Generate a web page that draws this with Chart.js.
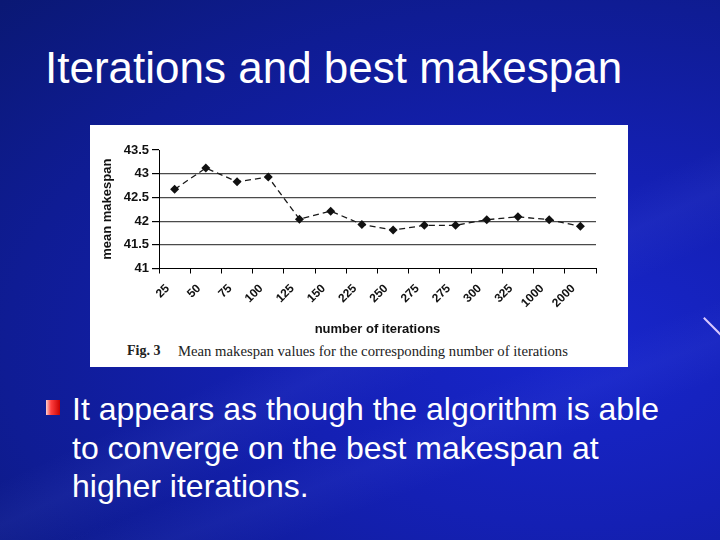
<!DOCTYPE html>
<html>
<head>
<meta charset="utf-8">
<script src="https://cdn.jsdelivr.net/npm/chart.js@4.4.0/dist/chart.umd.min.js"></script>
<style>
    html, body {
        margin: 0;
        padding: 0;
    }
    body {
        width: 720px;
        height: 540px;
        overflow: hidden;
        position: relative;
        font-family: "Liberation Sans", Arial, sans-serif;
        background:
            linear-gradient(155deg, rgba(255,255,255,0) 55%, rgba(120,140,255,0.07) 60%, rgba(255,255,255,0) 66%),
            linear-gradient(160deg, rgba(255,255,255,0) 70%, rgba(120,140,255,0.06) 75%, rgba(255,255,255,0) 80%),
            radial-gradient(ellipse at 80% 65%, #1826cc 0%, #1420b4 35%, #0f1c94 70%, #0a1874 100%);
    }
    #judul {
        position: absolute;
        left: 45px;
        top: 46px;
        font-size: 44px;
        line-height: 44px;
        color: #ffffff;
        white-space: nowrap;
    }
    #gambar {
        position: absolute;
        left: 90px;
        top: 125px;
        width: 538px;
        height: 242px;
        background: #ffffff;
    }
    #grafik {
        position: absolute;
        left: 0;
        top: 0;
    }
    .keterangan {
        position: absolute;
        top: 342px;
        font-family: "Liberation Serif", "Times New Roman", serif;
        font-size: 14.7px;
        line-height: 18px;
        color: #222;
        white-space: nowrap;
    }
    #poin {
        position: absolute;
        left: 46px;
        top: 400px;
        width: 14px;
        height: 15px;
        background: linear-gradient(90deg, #ffd0d0 0%, #ff4040 35%, #c80000 100%);
    }
    #teks {
        position: absolute;
        left: 72px;
        top: 390px;
        font-size: 32px;
        line-height: 38.5px;
        color: #ffffff;
        white-space: nowrap;
    }
    #garis-hias {
        position: absolute;
        left: 700px;
        top: 326px;
        width: 26px;
        height: 2px;
        background: #d8c8ff;
        transform: rotate(45deg);
    }
</style>
</head>
<body>
    <div id="judul">Iterations and best makespan</div>

    <div id="gambar">
        <canvas id="grafik" width="538" height="215"></canvas>
    </div>
    <div class="keterangan" style="left:127px;font-weight:bold;font-size:14px;">Fig. 3</div>
    <div class="keterangan" style="left:178px;">Mean makespan values for the corresponding number of iterations</div>

    <div id="poin"></div>
    <div id="teks">It appears as though the algorithm is able<br>to converge on the best makespan at<br>higher iterations.</div>
    <div id="garis-hias"></div>

<script>
// --- Data grafik ---
const iterations = ['25', '50', '75', '100', '125', '150', '225', '250', '275', '275', '300', '325', '1000', '2000'];
const meanMakespan = [42.67, 43.12, 42.83, 42.93, 42.04, 42.21, 41.93, 41.81, 41.91, 41.91, 42.03, 42.09, 42.03, 41.89];
const yMin = 41;
const yMax = 43.5;
const yStep = 0.5;

let makespanChart;

document.addEventListener('DOMContentLoaded', () => {
    initializeChart();
});

/**
 * Menggambar grafik garis putus-putus dengan penanda berlian.
 */
function initializeChart() {
    const ctx = document.getElementById('grafik').getContext('2d');
    const fontSans = '"Liberation Sans", Arial, sans-serif';

    makespanChart = new Chart(ctx, {
        type: 'line',
        data: {
            labels: iterations,
            datasets: [{
                label: 'mean makespan',
                data: meanMakespan,
                borderColor: '#1a1a1a',
                borderWidth: 1.3,
                borderDash: [6, 4],
                pointStyle: 'rectRot',
                pointRadius: 4.5,
                pointBackgroundColor: '#111',
                pointBorderColor: '#111',
                pointBorderWidth: 0,
                tension: 0,
                fill: false
            }]
        },
        options: {
            responsive: false,
            animation: false,
            devicePixelRatio: 1,
            layout: {
                padding: { top: 25, right: 32, left: 0, bottom: 0 }
            },
            plugins: {
                legend: { display: false },
                tooltip: { enabled: false }
            },
            scales: {
                x: {
                    type: 'category',
                    offset: true,
                    afterFit: (scale) => { scale.height = 71.5; },
                    grid: {
                        offset: true,
                        drawOnChartArea: false,
                        drawTicks: true,
                        tickLength: 5,
                        tickColor: '#000'
                    },
                    border: { display: true, color: '#000', width: 1 },
                    ticks: {
                        autoSkip: false,
                        minRotation: 45,
                        maxRotation: 45,
                        labelOffset: -7,
                        padding: 8,
                        color: '#111',
                        font: { family: fontSans, size: 12, weight: 'bold' }
                    },
                    title: {
                        display: true,
                        text: 'number of iterations',
                        color: '#111',
                        padding: { top: 0, bottom: 3 },
                        font: { family: fontSans, size: 13, weight: 'bold' }
                    }
                },
                y: {
                    min: yMin,
                    max: yMax,
                    afterFit: (scale) => { scale.width = 69; },
                    grid: {
                        // garis bantu di 43, 42.5, 42, 41.5 saja
                        color: (c) => (c.tick && (c.tick.value === yMax || c.tick.value === yMin)) ? 'rgba(0,0,0,0)' : '#4a4a4a',
                        lineWidth: 1.2,
                        tickLength: 7,
                        tickColor: '#000'
                    },
                    border: { display: true, color: '#000', width: 1 },
                    ticks: {
                        stepSize: yStep,
                        padding: 3,
                        color: '#111',
                        font: { family: fontSans, size: 13, weight: 'bold' },
                        // tampilkan 43, 42.5, 42 ... tanpa ".0"
                        callback: (value) => String(value)
                    },
                    title: {
                        display: true,
                        text: 'mean makespan',
                        color: '#111',
                        padding: { top: 10, bottom: 0 },
                        font: { family: fontSans, size: 13, weight: 'bold' }
                    }
                }
            }
        }
    });
}
</script>
</body>
</html>
